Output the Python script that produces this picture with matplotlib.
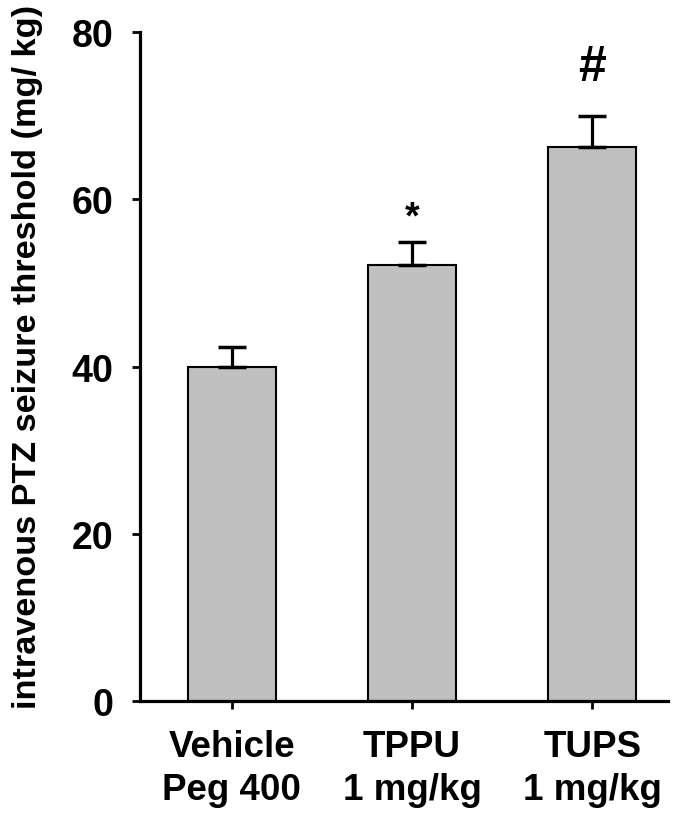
import matplotlib
matplotlib.use("Agg")
import matplotlib.pyplot as plt

categories = ["Vehicle\nPeg 400", "TPPU\n1 mg/kg", "TUPS\n1 mg/kg"]
means = [40.0, 52.2, 66.3]
sem = [2.3, 2.7, 3.7]
marks = ["", "*", "#"]
yticks = [0, 20, 40, 60, 80]

plt.rcParams['font.family'] = ['Liberation Sans', 'DejaVu Sans']
plt.rcParams['font.weight'] = 'bold'

fig = plt.figure(figsize=(6.76, 8.29), dpi=100)
ax = fig.add_axes([0.207, 0.153, 0.781, 0.807])

x = list(range(len(categories)))
ax.bar(x, means, width=0.49, color="#c0c0c0", edgecolor="black", linewidth=1.5, zorder=2)
ax.errorbar(x, means, yerr=[[0]*len(sem), sem], fmt="none", ecolor="black",
            elinewidth=2.3, capsize=10, capthick=2.5, zorder=3)

mark_size = {"*": 27, "#": 36}
mark_gap = {"*": 1.7, "#": 4.3}
for xi, m, s, mk in zip(x, means, sem, marks):
    if mk:
        ax.text(xi, m + s + mark_gap[mk], mk, ha="center", va="baseline",
                fontsize=mark_size[mk], fontweight="bold")

ax.set_xlim(-0.51, 2.42)
ax.set_ylim(0, 80)
ax.set_yticks(yticks)
ax.set_xticks(x)
ax.set_xticklabels(categories, fontsize=26.5, fontweight="bold", linespacing=1.3)
ax.tick_params(axis="y", labelsize=27, width=2, length=6, pad=13)
ax.tick_params(axis="x", width=2, length=6, pad=14)
for lab in ax.get_yticklabels():
    lab.set_fontweight("bold")

for side in ["top", "right"]:
    ax.spines[side].set_visible(False)
for side in ["left", "bottom"]:
    ax.spines[side].set_linewidth(2.3)

fig.text(28/676, 1 - 357/829, "intravenous PTZ seizure threshold (mg/ kg)",
         rotation=90, ha="center", va="center", fontsize=24.7, fontweight="bold")

fig.savefig("out.png", dpi=100)
